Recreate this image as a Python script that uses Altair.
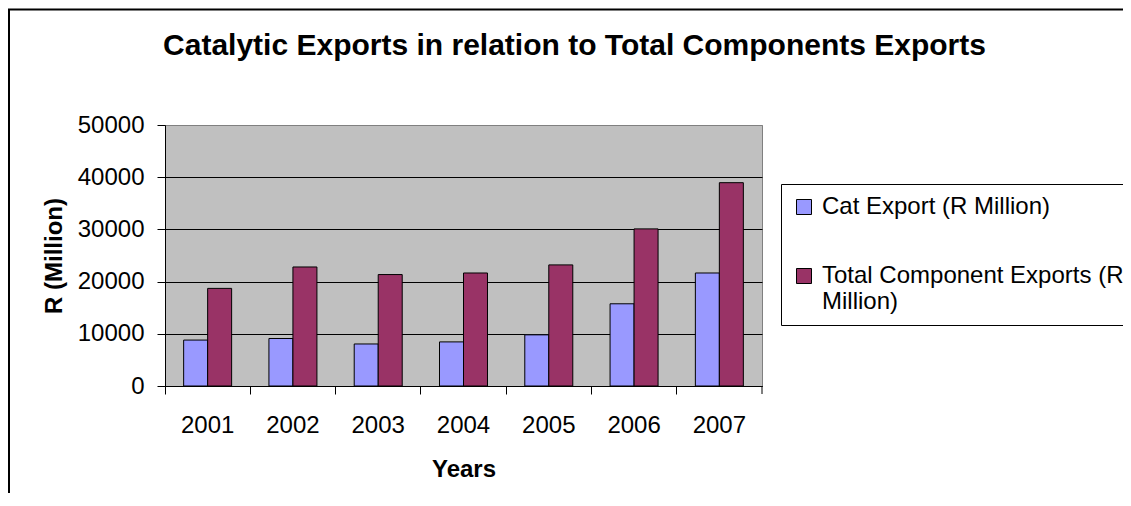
import altair as alt
import pandas as pd

# ---- data ----
years = ["2001", "2002", "2003", "2004", "2005", "2006", "2007"]
cat_export = [8800, 9100, 8050, 8450, 9800, 15750, 21650]
total_exports = [18700, 22800, 21350, 21650, 23200, 30100, 38950]
series_names = ["Cat Export (R Million)", "Total Component Exports (R Million)"]
series_colors = ["#9999FF", "#993366"]
y_ticks = [0, 10000, 20000, 30000, 40000, 50000]

rows = []
for i, yr in enumerate(years):
    rows.append({"Year": yr, "Series": series_names[0], "Value": cat_export[i]})
    rows.append({"Year": yr, "Series": series_names[1], "Value": total_exports[i]})
df = pd.DataFrame(rows)
one = pd.DataFrame({"k": [0]})

FONT = "Liberation Sans"
W, H = 597, 261
PAD_L, PAD_T = 157, 117
TOTAL_W, TOTAL_H = 1115, 485

label_expr = (
    "datum.label == '" + series_names[1] + "' ? "
    "['Total Component Exports (R', 'Million)'] : datum.label"
)

bars = alt.Chart(df).mark_bar(stroke="black", strokeWidth=1).encode(
    x=alt.X(
        "Year:N",
        sort=years,
        scale=alt.Scale(paddingInner=0, paddingOuter=0),
        axis=alt.Axis(
            title="Years",
            titleFont=FONT,
            titleFontSize=24,
            titleFontWeight="bold",
            titleColor="black",
            titleY=90,
            titleBaseline="alphabetic",
            labelAngle=0,
            labelFont=FONT,
            labelFontSize=24,
            labelColor="black",
            labelPadding=19,
            bandPosition=0,
            tickSize=8,
            tickColor="black",
            domainColor="black",
            grid=False,
        ),
    ),
    xOffset=alt.XOffset(
        "Series:N",
        sort=series_names,
        scale=alt.Scale(paddingInner=0, paddingOuter=0.777),
    ),
    y=alt.Y(
        "Value:Q",
        scale=alt.Scale(domain=[0, 50000], nice=False),
        axis=alt.Axis(
            title="R (Million)",
            titleFont=FONT,
            titleFontSize=24,
            titleFontWeight="bold",
            titleColor="black",
            titleAngle=270,
            titleX=-104,
            titleY=H / 2,
            titleAlign="center",
            titleBaseline="alphabetic",
            values=y_ticks,
            format="d",
            labelFont=FONT,
            labelFontSize=24,
            labelColor="black",
            labelPadding=13,
            tickSize=8,
            tickColor="black",
            domainColor="black",
            grid=True,
            gridColor={"condition": {"test": "datum.value >= 50000", "value": "#808080"}, "value": "black"},
            gridWidth=1,
        ),
    ),
    color=alt.Color(
        "Series:N",
        scale=alt.Scale(domain=series_names, range=series_colors),
        legend=alt.Legend(
            title=None,
            orient="none",
            legendX=616,
            legendY=59,
            strokeColor="black",
            padding=11,
            symbolType="square",
            symbolSize=225,
            symbolStrokeColor="black",
            symbolStrokeWidth=1,
            labelFont=FONT,
            labelFontSize=24,
            labelColor="black",
            labelLimit=0,
            labelOffset=6,
            rowPadding=45,
            labelExpr=label_expr,
        ),
    ),
)

frame_top = alt.Chart(one).mark_rule(color="black", strokeWidth=2).encode(
    x=alt.value(-157), x2=alt.value(1131 - 165), y=alt.value(-115.5)
)
frame_left = alt.Chart(one).mark_rule(color="black", strokeWidth=2).encode(
    x=alt.value(-156), y=alt.value(-115.5), y2=alt.value(506 - 125)
)
end_tick = alt.Chart(one).mark_rule(color="black", strokeWidth=1).encode(
    x=alt.value(W), y=alt.value(H), y2=alt.value(H + 8)
)

chart = (
    alt.layer(bars, frame_top, frame_left, end_tick)
    .properties(
        width=W,
        height=H,
        title=alt.TitleParams(
            text="Catalytic Exports in relation to Total Components Exports",
            font=FONT,
            fontSize=30,
            fontWeight="bold",
            color="black",
            anchor="middle",
            frame="group",
            baseline="alphabetic",
            offset=-76,
            dx=111,
        ),
        autosize=alt.AutoSizeParams(type="none"),
        padding={"left": PAD_L, "top": PAD_T, "right": TOTAL_W - PAD_L - W, "bottom": TOTAL_H - PAD_T - H},
    )
    .configure(font=FONT, background="white")
    .configure_view(fill="#C0C0C0", stroke="#808080", strokeWidth=1)
)

chart.save("out.html", embed_options={"renderer": "svg", "actions": False})
